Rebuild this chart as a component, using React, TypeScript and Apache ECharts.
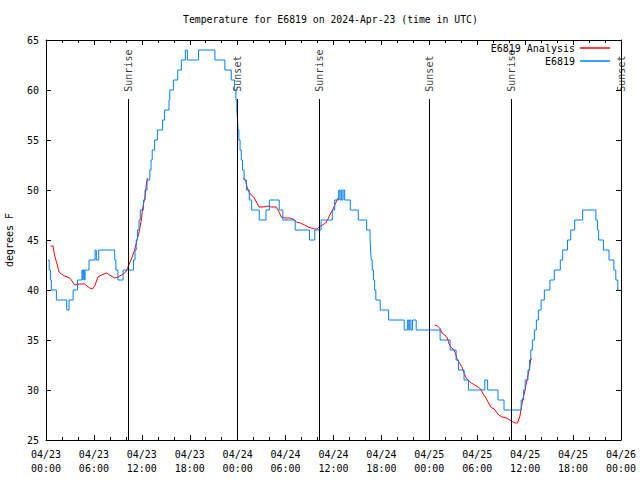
import React, { useEffect, useRef } from "react";
import * as echarts from "echarts";

const FONT = '"DejaVu Sans Mono", "Liberation Mono", monospace';

const titleText = "Temperature for E6819 on 2024-Apr-23 (time in UTC)";

// x axis: hours since 2024-04-23 00:00 UTC
const xTickLabels = [
  "04/23\n00:00", "04/23\n06:00", "04/23\n12:00", "04/23\n18:00",
  "04/24\n00:00", "04/24\n06:00", "04/24\n12:00", "04/24\n18:00",
  "04/25\n00:00", "04/25\n06:00", "04/25\n12:00", "04/25\n18:00",
  "04/26\n00:00",
];

const sunEventHours = [10.27, 23.93, 34.27, 47.97, 58.23, 72];
const sunEventNames = ["Sunrise", "Sunset", "Sunrise", "Sunset", "Sunrise", "Sunset"];

// E6819 observations [hour, degF] (value holds until next point)
const e6819 = [
  [0.25, 43], [0.4, 42], [0.55, 41], [0.67, 40], [1.3, 39], [2.6, 38], [2.88, 39],
  [3.4, 40], [3.95, 41], [4.5, 42], [4.62, 41], [4.7, 42], [4.8, 41], [4.9, 42],
  [5.39, 43], [6.15, 44], [6.3, 43], [6.6, 44], [8.6, 43], [8.75, 42], [9.0, 41],
  [9.65, 42], [10.95, 43], [11.15, 44], [11.3, 45], [11.45, 46], [11.65, 47],
  [11.8, 48], [12.2, 49], [12.4, 50], [12.65, 51], [13.0, 52], [13.15, 53],
  [13.3, 54], [13.6, 55], [13.95, 56], [14.6, 57], [14.85, 58], [15.4, 59],
  [15.5, 60], [15.95, 61], [16.5, 62], [16.95, 63], [17.45, 64], [17.7, 63],
  [19.1, 64], [21.15, 63], [22.4, 62], [23.2, 61], [23.6, 60], [23.78, 59],
  [23.9, 58], [23.98, 57], [24.05, 56], [24.15, 55], [24.3, 54], [24.45, 53],
  [24.6, 52], [24.8, 51], [25.1, 50], [25.45, 49], [25.75, 48], [26.7, 47],
  [27.55, 48], [27.97, 49], [29.2, 48], [29.65, 47], [31.2, 46], [33.0, 45],
  [33.65, 46], [34.45, 47], [35.85, 48], [36.15, 49], [36.65, 50], [36.8, 49],
  [36.95, 50], [37.05, 49], [37.2, 50], [37.4, 49], [38.1, 48], [39.1, 47],
  [40.15, 46], [40.58, 45], [40.65, 44], [40.72, 43], [40.85, 42], [41.0, 41],
  [41.15, 40], [41.3, 39], [41.85, 38], [42.9, 37], [44.85, 36], [45.25, 37],
  [45.42, 36], [45.55, 37], [45.7, 36], [45.9, 37], [46.35, 36], [49.35, 35],
  [50.6, 34], [51.35, 33], [51.65, 32], [52.35, 31], [52.9, 30], [54.95, 31],
  [55.3, 30], [56.6, 29], [57.35, 28], [59.5, 29], [59.8, 30], [60.0, 31],
  [60.35, 32], [60.55, 33], [60.7, 34], [60.9, 35], [61.15, 36], [61.4, 37],
  [61.65, 38], [62.0, 39], [62.4, 40], [63.1, 41], [63.65, 42], [64.4, 43],
  [64.7, 44], [65.3, 45], [65.7, 46], [66.2, 47], [67.2, 48], [68.85, 47],
  [69.05, 46], [69.2, 45], [69.8, 44], [70.5, 43], [71.1, 42], [71.35, 41],
  [71.6, 40], [71.8, 40],
];

// E6819 Analysis, three segments [hour, degF]
const analysisSeg1 = [
  [0.55, 44.4], [0.88, 44.4], [1.09, 43.4], [1.38, 42.6], [1.63, 41.8], [1.93, 41.6],
  [2.34, 41.4], [2.97, 41.2], [3.18, 41.0], [3.59, 40.5], [4.22, 40.6], [4.84, 40.6],
  [5.47, 40.2], [5.8, 40.1], [6.1, 40.4], [6.51, 41.3], [6.93, 41.5], [7.56, 41.7],
  [7.97, 41.5], [8.6, 41.2], [9.02, 41.3], [9.44, 41.5], [9.98, 41.8], [10.27, 42.3],
  [10.69, 43.1], [11.02, 43.8], [11.31, 44.7], [11.65, 45.8], [11.94, 47.0],
  [12.07, 48.0], [12.23, 48.7], [12.4, 49.3], [12.57, 50.6], [12.69, 51.2],
];
const analysisSeg2 = [
  [24.67, 51.2], [24.99, 51.0], [25.17, 50.3], [25.42, 49.8], [25.71, 49.5],
  [26.01, 49.3], [26.34, 48.8], [26.67, 48.3], [27.18, 48.3], [27.68, 48.4],
  [28.22, 48.3], [28.85, 48.3], [29.18, 47.8], [29.47, 47.3], [29.89, 47.2],
  [30.51, 47.2], [30.93, 47.1], [31.35, 46.8], [31.85, 46.7], [32.39, 46.5],
  [32.81, 46.3], [33.23, 46.2], [33.64, 46.1], [33.94, 46.1], [34.19, 46.3],
  [34.6, 46.5], [35.02, 46.7], [35.31, 47.1], [35.6, 47.6], [35.94, 48.1],
  [36.27, 48.7], [36.56, 49.2],
];
const analysisSeg3 = [
  [48.67, 36.5], [49.0, 36.4], [49.3, 36.2], [49.59, 35.7], [49.93, 35.5],
  [50.26, 35.2], [50.43, 34.7], [50.68, 34.3], [50.97, 34.1], [51.26, 33.7],
  [51.51, 33.0], [51.8, 32.7], [52.09, 32.3], [52.34, 31.7], [52.64, 31.2],
  [52.93, 30.9], [53.26, 30.7], [53.68, 30.5], [54.1, 30.3], [54.43, 30.1],
  [54.72, 29.6], [55.02, 29.3], [55.35, 28.8], [55.69, 28.3], [56.11, 28.1],
  [56.4, 27.8], [56.69, 27.5], [57.1, 27.3], [57.65, 27.2], [58.07, 27.0],
  [58.49, 26.8], [58.78, 26.7], [59.03, 26.7], [59.32, 27.3], [59.53, 28.3],
  [59.74, 29.2], [59.94, 29.8], [60.15, 30.7], [60.36, 31.5], [60.57, 32.3],
  [60.7, 33.1], [60.86, 33.1],
];

const Y_MIN = 25;
const Y_MAX = 65;
const SUN_LINE_TOP = 59.1;
const SUN_LABEL_Y = 59.83;

const RED = "#ff0000";
const BLUE = "#0080ff";

export default function App() {
  const ref = useRef<HTMLDivElement>(null);

  useEffect(() => {
    if (!ref.current) return;
    const chart = echarts.init(ref.current, null, { renderer: "svg" });
    const axisCommon = {
      axisLine: { show: true, onZero: false, lineStyle: { color: "#000", width: 1 } },
      splitLine: { show: false },
    };
    const analysisSeries = [analysisSeg1, analysisSeg2, analysisSeg3].map((seg) => ({
      name: "E6819 Analysis",
      type: "line",
      data: seg,
      showSymbol: false,
      symbol: "none",
      lineStyle: { color: RED, width: 1 },
      itemStyle: { color: RED },
      silent: true,
      z: 2,
    }));
    const legendCommon = {
      orient: "vertical",
      align: "right",
      right: 30,
      padding: 0,
      icon: "rect",
      itemWidth: 30,
      itemHeight: 1.5,
      selectedMode: false,
      textStyle: { fontFamily: FONT, fontSize: 10, color: "#000" },
    };
    chart.setOption({
      animation: false,
      backgroundColor: "#ffffff",
      title: {
        text: titleText,
        left: 183,
        top: 14,
        padding: 0,
        textStyle: { fontFamily: FONT, fontSize: 9.8, fontWeight: "normal", color: "#000" },
      },
      legend: [
        { ...legendCommon, top: 43, data: ["E6819 Analysis"] },
        { ...legendCommon, top: 56, data: ["E6819"] },
      ],
      grid: { left: 46, right: 19, top: 40, bottom: 40, containLabel: false, outerBoundsMode: "none" },
      xAxis: [
        {
          type: "value",
          min: 0,
          max: 72,
          interval: 6,
          position: "bottom",
          ...axisCommon,
          axisTick: { show: true, inside: true, length: 5, lineStyle: { color: "#000" } },
          minorTick: { show: true, splitNumber: 3, length: 3, lineStyle: { color: "#000" } },
          axisLabel: {
            formatter: (v: number) => xTickLabels[Math.round(v / 6)] ?? "",
            margin: 7,
            lineHeight: 14,
            fontFamily: FONT,
            fontSize: 10,
            color: "#000",
          },
        },
        {
          type: "value",
          min: 0,
          max: 72,
          interval: 6,
          position: "top",
          ...axisCommon,
          axisTick: { show: true, inside: true, length: 5, lineStyle: { color: "#000" } },
          minorTick: { show: true, splitNumber: 3, length: 3, lineStyle: { color: "#000" } },
          axisLabel: { show: false },
        },
      ],
      yAxis: [
        {
          type: "value",
          min: Y_MIN,
          max: Y_MAX,
          interval: 5,
          position: "left",
          ...axisCommon,
          name: "degrees F",
          nameLocation: "middle",
          nameGap: 32,
          nameTextStyle: { fontFamily: FONT, fontSize: 10, color: "#000" },
          axisTick: { show: true, inside: true, length: 5, lineStyle: { color: "#000" } },
          axisLabel: { margin: 7, fontFamily: FONT, fontSize: 10, color: "#000" },
        },
        {
          type: "value",
          min: Y_MIN,
          max: Y_MAX,
          interval: 5,
          position: "right",
          ...axisCommon,
          axisTick: { show: true, inside: true, length: 5, lineStyle: { color: "#000" } },
          axisLabel: { show: false },
        },
      ],
      series: [
        {
          name: "sun",
          type: "scatter",
          symbolSize: 0,
          silent: true,
          data: sunEventHours.map((h, i) => ({ value: [h, SUN_LABEL_Y], name: sunEventNames[i] })),
          label: {
            show: true,
            formatter: "{b}",
            position: [0, 0],
            rotate: 90,
            align: "left",
            verticalAlign: "middle",
            fontFamily: FONT,
            fontSize: 10,
            color: "#000",
          },
          markLine: {
            silent: true,
            symbol: "none",
            label: { show: false },
            lineStyle: { color: "#000", width: 1, type: "solid" },
            data: sunEventHours.map((h) => [{ coord: [h, Y_MIN] }, { coord: [h, SUN_LINE_TOP] }]),
          },
          z: 1,
        },
        ...analysisSeries,
        {
          name: "E6819",
          type: "line",
          step: "end",
          data: e6819,
          showSymbol: false,
          symbol: "none",
          lineStyle: { color: BLUE, width: 1 },
          itemStyle: { color: BLUE },
          silent: true,
          z: 3,
        },
      ],
    });
    return () => chart.dispose();
  }, []);

  return (
    <div
      ref={ref}
      style={{ position: "fixed", left: 0, top: 0, width: 640, height: 480, background: "#fff" }}
    />
  );
}
